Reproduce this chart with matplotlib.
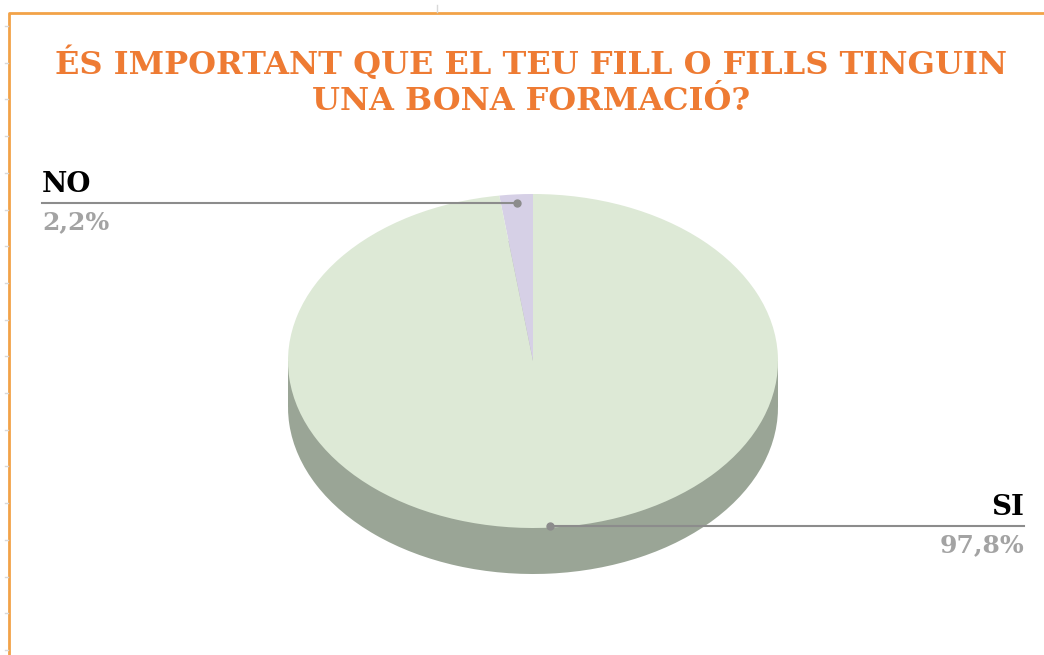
import numpy as np
import matplotlib
matplotlib.use('Agg')
from matplotlib import pyplot as plt
from matplotlib.patches import Rectangle

plt.rcParams['font.family'] = ['DejaVu Serif']

# dades
labels = ['NO', 'SI']
values = [2.2, 97.8]
pct_text = ['2,2%', '97,8%']
title = 'ÉS IMPORTANT QUE EL TEU FILL O FILLS TINGUIN\nUNA BONA FORMACIÓ?'

top_colors = ['#d6d0e6', '#dde9d6']
side_colors = ['#a9a6b5', '#9aa596']
orange = '#ee7b33'

W, H = 1044, 655
fig = plt.figure(figsize=(W / 100, H / 100), dpi=100)

# geometria del pastis (en pixels)
cx, cy = 533, 361
rx, ry = 245, 167
depth = 46

# eix del pastis: x en [-1,1], y en [-1-d, 1]
d = depth / ry
ax = fig.add_axes([(cx - rx) / W, (H - (cy + ry + depth)) / H, 2 * rx / W, (2 * ry + depth) / H])

# cara lateral
ax.pie(values, colors=side_colors, startangle=90, counterclock=True, center=(0, -d), radius=1,
       wedgeprops=dict(linewidth=0))
ax.add_patch(Rectangle((-1, -d), 2, d, facecolor=side_colors[1], linewidth=0, zorder=1))
# cara superior
wedges, _ = ax.pie(values, colors=top_colors, startangle=90, counterclock=True, radius=1,
                   wedgeprops=dict(linewidth=0, zorder=3))
ax.set_aspect('auto')
ax.set_xlim(-1, 1)
ax.set_ylim(-1 - d, 1)
ax.axis('off')

# capa de text i linies en pixels
ov = fig.add_axes([0, 0, 1, 1], facecolor='none')
ov.set_xlim(0, W)
ov.set_ylim(H, 0)
ov.axis('off')

# marc taronja
ov.plot([9, 9, W], [H, 13, 13], color='#f2a248', lw=2)
# marques de regle
for yy in np.arange(26, H, 36.7):
    ov.plot([5, 8], [yy, yy], color='#d8d8d8', lw=1)
ov.plot([437, 437], [5, 12], color='#d8d8d8', lw=1)

ov.text(531, 82, title, ha='center', va='center', color=orange, fontsize=23,
        fontweight='bold', linespacing=1.2)

# etiquetes amb linies guia
cum = np.cumsum([0] + values)
for i, lab in enumerate(labels):
    mid = np.deg2rad(90 + (cum[i] + values[i] / 2) * 3.6)
    r = 0.95 if i == 0 else 0.99
    px = cx + r * rx * np.cos(mid)
    py = cy - r * ry * np.sin(mid)
    if px < cx:
        x_end, ha = 42, 'left'
    else:
        x_end, ha = 1024, 'right'
    ov.plot([px, x_end], [py, py], color='#8c8c8c', lw=1.5, zorder=5)
    ov.plot(px, py, 'o', color='#8c8c8c', ms=5, zorder=5)
    ov.text(x_end, py - 5, lab, ha=ha, va='bottom', color='black', fontsize=20, fontweight='bold')
    ov.text(x_end, py + 7, pct_text[i], ha=ha, va='top', color='#a3a3a3', fontsize=18, fontweight='bold')

fig.savefig('out.png', dpi=100)
